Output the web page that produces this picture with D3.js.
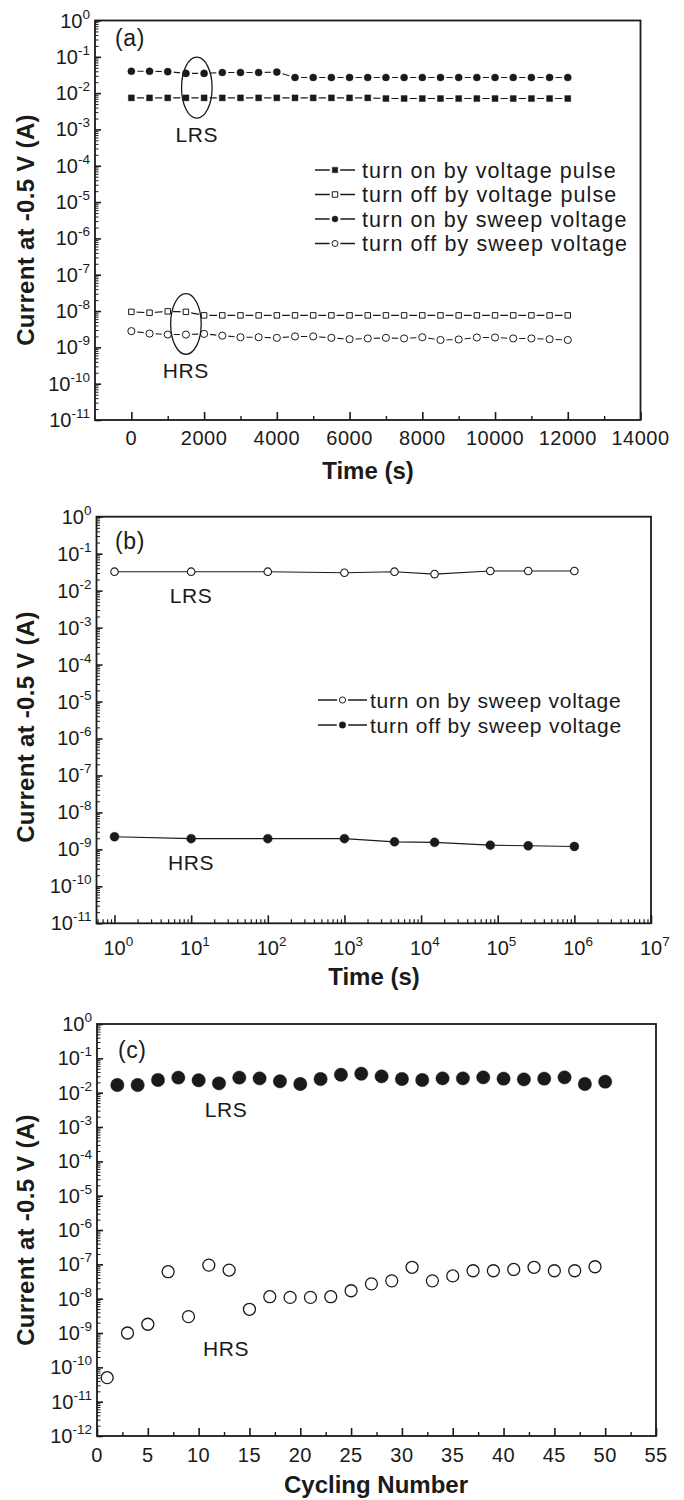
<!DOCTYPE html>
<html>
<head>
<meta charset="utf-8">
<script src="https://cdn.jsdelivr.net/npm/d3@7/dist/d3.min.js"></script>
<style>
  body { margin: 0; background: #fff; }
  text { font-family: "Liberation Sans", Arial, Helvetica, sans-serif; fill: #1a1a1a; }
</style>
</head>
<body>
<div id="chart"></div>
<script>

// ---- panel (a): retention vs time (linear) ----
const timeA = [0, 500, 1000, 1500, 2000, 2500, 3000, 3500, 4000, 4500, 5000, 5500, 6000,
  6500, 7000, 7500, 8000, 8500, 9000, 9500, 10000, 10500, 11000, 11500, 12000]
const onPulseA = [7.4e-3, 7.4e-3, 7.4e-3, 7.4e-3, 7.4e-3, 7.4e-3, 7.4e-3, 7.4e-3, 7.4e-3, 7.4e-3,
  7.4e-3, 7.4e-3, 7.4e-3, 7.4e-3, 7.1e-3, 7.1e-3, 7.1e-3, 7.1e-3, 7.1e-3, 7.1e-3,
  7.1e-3, 7.1e-3, 7.1e-3, 7.1e-3, 7.1e-3]
const offPulseA = [9.5e-9, 9.0e-9, 9.8e-9, 9.5e-9, 7.6e-9, 7.6e-9, 7.6e-9, 7.6e-9, 7.6e-9, 7.6e-9,
  7.6e-9, 7.6e-9, 7.6e-9, 7.6e-9, 7.6e-9, 7.6e-9, 7.6e-9, 7.6e-9, 7.6e-9, 7.6e-9,
  7.6e-9, 7.6e-9, 7.6e-9, 7.6e-9, 7.6e-9]
const onSweepA = [0.040, 0.040, 0.039, 0.035, 0.035, 0.037, 0.037, 0.037, 0.038, 0.027,
  0.027, 0.027, 0.027, 0.027, 0.027, 0.027, 0.027, 0.027, 0.027, 0.027,
  0.027, 0.027, 0.027, 0.027, 0.027]
const offSweepA = [2.8e-9, 2.4e-9, 2.25e-9, 2.25e-9, 2.35e-9, 2.1e-9, 1.9e-9, 1.9e-9, 1.83e-9, 2.0e-9,
  2.0e-9, 1.83e-9, 1.68e-9, 1.76e-9, 1.83e-9, 1.76e-9, 1.9e-9, 1.6e-9, 1.65e-9, 1.87e-9,
  1.87e-9, 1.76e-9, 1.76e-9, 1.68e-9, 1.6e-9]
const xTicksA = [0, 2000, 4000, 6000, 8000, 10000, 12000, 14000]
const xMinorA = [1000, 3000, 5000, 7000, 9000, 11000, 13000]

// ---- panel (b): retention vs time (log) ----
const timeB = [1, 10, 100, 1000, 4500, 15000, 80000, 250000, 1000000]
const lrsB = [0.0325, 0.0325, 0.0325, 0.0305, 0.0325, 0.028, 0.034, 0.034, 0.034]
const hrsB = [2.2e-9, 1.95e-9, 1.95e-9, 1.95e-9, 1.6e-9, 1.55e-9, 1.3e-9, 1.25e-9, 1.2e-9]

// ---- panel (c): endurance ----
const cycleLRS = [2, 4, 6, 8, 10, 12, 14, 16, 18, 20, 22, 24, 26, 28, 30, 32, 34, 36, 38, 40, 42, 44, 46, 48, 50]
const lrsC = [0.0167, 0.0167, 0.0234, 0.0274, 0.0229, 0.0187, 0.0274, 0.0261, 0.0214, 0.0179,
  0.025, 0.0334, 0.0357, 0.0298, 0.025, 0.0234, 0.0261, 0.0261, 0.0279, 0.0256,
  0.0244, 0.0256, 0.0279, 0.0179, 0.0209]
const cycleHRS = [1, 3, 5, 7, 9, 11, 13, 15, 17, 19, 21, 23, 25, 27, 29, 31, 33, 35, 37, 39, 41, 43, 45, 47, 49]
const hrsC = [5e-11, 1.0e-9, 1.8e-9, 6.1e-8, 3.0e-9, 9.5e-8, 6.8e-8, 4.9e-9, 1.14e-8, 1.09e-8,
  1.09e-8, 1.14e-8, 1.7e-8, 2.7e-8, 3.3e-8, 8.2e-8, 3.3e-8, 4.6e-8, 6.5e-8, 6.5e-8,
  7.1e-8, 8.2e-8, 6.5e-8, 6.5e-8, 8.5e-8]
const xTicksC = [0, 5, 10, 15, 20, 25, 30, 35, 40, 45, 50, 55]
const xMinorC = [2.5, 7.5, 12.5, 17.5, 22.5, 27.5, 32.5, 37.5, 42.5, 47.5, 52.5]

const legendA = ["turn on by voltage pulse", "turn off by voltage pulse", "turn on by sweep voltage", "turn off by sweep voltage"]
const legendB = ["turn on by sweep voltage", "turn off by sweep voltage"]

const ink = "#1a1a1a"
const yTitle = "Current at -0.5 V (A)"

const svg = d3.select("#chart").append("svg")
  .attr("width", 684).attr("height", 1500)
svg.append("rect").attr("width", 684).attr("height", 1500).attr("fill", "#fff")

function decades(lo, hi) {
  let out = []
  for (let e = lo; e <= hi; e++) out.push(Math.pow(10, e))
  return out
}

function minorLog(lo, hi, dom) {
  let out = []
  for (let e = lo; e < hi; e++) {
    for (let m = 2; m <= 9; m++) {
      let v = m * Math.pow(10, e)
      if (v > dom[0] && v < dom[1]) out.push(v)
    }
  }
  return out
}

function ticks(g, axis, scale, values, size, width) {
  g.call(axis(scale).tickValues(values).tickSize(size).tickFormat(""))
  g.select(".domain").remove()
  g.selectAll(".tick line").attr("stroke", ink).attr("stroke-width", width)
  g.selectAll(".tick text").remove()
}

function powLabel(t, exp) {
  t.append("tspan").attr("class", "base").text("10")
  t.append("tspan").attr("dy", -9).attr("font-size", 13.5).text(exp)
}

function frame(x, y) {
  let [x0, x1] = x.range()
  let [yb, yt] = y.range()

  // log y axis, minor + major ticks pointing inward
  let dom = y.domain()
  let lo = Math.round(Math.log10(dom[0])), hi = Math.round(Math.log10(dom[1]))
  ticks(svg.append("g").attr("transform", `translate(${x0},0)`), d3.axisLeft, y, minorLog(lo, hi, dom), -3.5, 1)
  ticks(svg.append("g").attr("transform", `translate(${x0},0)`), d3.axisLeft, y, decades(lo, hi), -6, 1.6)

  svg.append("g").selectAll("text")
    .data(decades(lo, hi))
    .join("text")
    .attr("x", x0 - 5)
    .attr("y", d => y(d) + 7)
    .attr("text-anchor", "end")
    .attr("font-size", 20)
    .each(function(d) { powLabel(d3.select(this), Math.round(Math.log10(d))) })

  svg.append("rect")
    .attr("x", x0).attr("y", yt)
    .attr("width", x1 - x0).attr("height", yb - yt)
    .attr("fill", "none").attr("stroke", ink).attr("stroke-width", 1.8)
}

function yLabel(cy) {
  svg.append("text")
    .attr("transform", `translate(34,${cy}) rotate(-90)`)
    .attr("text-anchor", "middle")
    .attr("font-size", 24).attr("font-weight", "bold")
    .style("letter-spacing", "0.3px")
    .text(yTitle)
}

function xTitle(text, cx, y) {
  svg.append("text")
    .attr("x", cx).attr("y", y)
    .attr("text-anchor", "middle")
    .attr("font-size", 24).attr("font-weight", "bold")
    .text(text)
}

function note(text, x, y, size, anchor, spacing) {
  svg.append("text")
    .attr("x", x).attr("y", y)
    .attr("text-anchor", anchor || "middle")
    .attr("font-size", size)
    .style("letter-spacing", (spacing == null ? 0.6 : spacing) + "px")
    .text(text)
}

function series(xs, ys, sx, sy, o) {
  let pts = xs.map((t, i) => [sx(t), sy(ys[i])])
  if (o.line) {
    svg.append("path")
      .attr("d", d3.line()(pts))
      .attr("fill", "none").attr("stroke", ink).attr("stroke-width", 1.1)
  }
  markers(pts, o)
}

function markers(pts, o) {
  let sym = d3.symbol().type(o.shape == "square" ? d3.symbolSquare : d3.symbolCircle).size(o.area)
  if (o.halo) {
    svg.append("g").selectAll("path").data(pts).join("path")
      .attr("transform", d => `translate(${d[0]},${d[1]})`)
      .attr("d", sym)
      .attr("fill", "#fff").attr("stroke", "#fff").attr("stroke-width", o.halo)
  }
  svg.append("g").selectAll("path").data(pts).join("path")
    .attr("transform", d => `translate(${d[0]},${d[1]})`)
    .attr("d", sym)
    .attr("fill", o.filled ? ink : "#fff")
    .attr("stroke", ink).attr("stroke-width", o.filled ? 0.4 : (o.sw || 1))
}

function legend(items, styles, x0, x1, xm, xt, rows, size, spacing) {
  items.forEach((label, i) => {
    let cy = rows[i]
    svg.append("line").attr("x1", x0).attr("x2", x1).attr("y1", cy).attr("y2", cy)
      .attr("stroke", ink).attr("stroke-width", 1.3)
    markers([[xm, cy]], styles[i])
    note(label, xt, cy + 7.5, size, "start", spacing)
  })
}

// ================= panel (a) =================
const xa = d3.scaleLinear().domain([-1000, 14000]).range([95, 640.5])
const ya = d3.scaleLog().domain([1e-11, 1]).range([420, 20.5])

frame(xa, ya)
ticks(svg.append("g").attr("transform", "translate(0,420)"), d3.axisBottom, xa, xMinorA, -4, 1.4)
ticks(svg.append("g").attr("transform", "translate(0,420)"), d3.axisBottom, xa, xTicksA, -8, 1.6)
svg.append("g").selectAll("text").data(xTicksA).join("text")
  .attr("x", d => xa(d)).attr("y", 445)
  .attr("text-anchor", "middle").attr("font-size", 20)
  .style("letter-spacing", "0.5px")
  .text(d => d)

const styleA = [
  { shape: "square", filled: true, area: 36, halo: 5 },
  { shape: "square", filled: false, area: 30, halo: 5, sw: 1 },
  { shape: "circle", filled: true, area: 40, halo: 5 },
  { shape: "circle", filled: false, area: 40, halo: 5, sw: 1 }
]
series(timeA, onPulseA, xa, ya, Object.assign({ line: true }, styleA[0]))
series(timeA, offPulseA, xa, ya, Object.assign({ line: true }, styleA[1]))
series(timeA, onSweepA, xa, ya, Object.assign({ line: true }, styleA[2]))
series(timeA, offSweepA, xa, ya, Object.assign({ line: true }, styleA[3]))

// ellipses marking LRS / HRS groups
const ellipsesA = [
  { t0: 1380, t1: 2220, v0: Math.pow(10, -1.01), v1: Math.pow(10, -2.69) },
  { t0: 1080, t1: 1920, v0: Math.pow(10, -7.52), v1: Math.pow(10, -9.19) }
]
svg.append("g").selectAll("ellipse").data(ellipsesA).join("ellipse")
  .attr("cx", d => (xa(d.t0) + xa(d.t1)) / 2)
  .attr("cy", d => (ya(d.v0) + ya(d.v1)) / 2)
  .attr("rx", d => (xa(d.t1) - xa(d.t0)) / 2)
  .attr("ry", d => (ya(d.v1) - ya(d.v0)) / 2)
  .attr("fill", "none").attr("stroke", ink).attr("stroke-width", 1.3)

note("(a)", 115, 45.5, 23, "start")
note("LRS", xa(1800), ya(Math.pow(10, -3.34)), 21)
note("HRS", xa(1500), ya(Math.pow(10, -9.85)), 21)

legend(legendA, styleA.map(s => Object.assign({}, s, { area: s.shape == "square" ? 30 : 28 })),
  315, 355, 335, 362, [170, 194.5, 219, 243.5], 21.5, 1.1)

yLabel(230)
xTitle("Time (s)", 368, 479)

// ================= panel (b) =================
const xb = d3.scaleLog().domain([Math.pow(10, -0.235), 1e7]).range([96.5, 651])
const yb = d3.scaleLog().domain([1e-11, 1]).range([923.3, 516.7])

frame(xb, yb)
ticks(svg.append("g").attr("transform", "translate(0,923.3)"), d3.axisBottom, xb, minorLog(-1, 7, xb.domain()), -4, 1.2)
ticks(svg.append("g").attr("transform", "translate(0,923.3)"), d3.axisBottom, xb, decades(0, 7), -8, 1.6)
svg.append("g").selectAll("text").data(decades(0, 7)).join("text")
  .attr("y", 955)
  .attr("font-size", 20)
  .each(function(d) {
    let t = d3.select(this)
    powLabel(t, Math.round(Math.log10(d)))
    let w = t.select(".base").node().getComputedTextLength()
    t.attr("x", xb(d) - w / 2)
  })

const styleB = [
  { shape: "circle", filled: false, area: 45, sw: 1.1 },
  { shape: "circle", filled: true, area: 64 }
]
series(timeB, lrsB, xb, yb, Object.assign({ line: true }, styleB[0]))
series(timeB, hrsB, xb, yb, Object.assign({ line: true }, styleB[1]))

note("(b)", 115, 548.5, 23, "start")
note("LRS", xb(10), yb(4.6e-3), 21)
note("HRS", xb(10), yb(2.75e-10), 21)

legend(legendB, [
  { shape: "circle", filled: false, area: 30, halo: 5, sw: 1 },
  { shape: "circle", filled: true, area: 34, halo: 5 }
], 318, 367, 342.5, 370, [700, 725], 21, 0.75)

yLabel(727)
xTitle("Time (s)", 374, 985)

// ================= panel (c) =================
const xc = d3.scaleLinear().domain([0, 55]).range([97, 656])
const yc = d3.scaleLog().domain([1e-12, 1]).range([1436, 1024])

frame(xc, yc)
ticks(svg.append("g").attr("transform", "translate(0,1436)"), d3.axisBottom, xc, xMinorC, -4, 1.4)
ticks(svg.append("g").attr("transform", "translate(0,1436)"), d3.axisBottom, xc, xTicksC, -8, 1.6)
svg.append("g").selectAll("text").data(xTicksC).join("text")
  .attr("x", d => xc(d)).attr("y", 1462)
  .attr("text-anchor", "middle").attr("font-size", 20)
  .style("letter-spacing", "0.5px")
  .text(d => d)

series(cycleLRS, lrsC, xc, yc, { shape: "circle", filled: true, area: 141 })
series(cycleHRS, hrsC, xc, yc, { shape: "circle", filled: false, area: 113, sw: 1.3 })

note("(c)", 118, 1058, 23, "start")
note("LRS", xc(12.7), yc(1.95e-3), 21)
note("HRS", xc(12.7), yc(2.1e-10), 21)

yLabel(1230)
xTitle("Cycling Number", 376, 1493)

</script>
</body>
</html>
